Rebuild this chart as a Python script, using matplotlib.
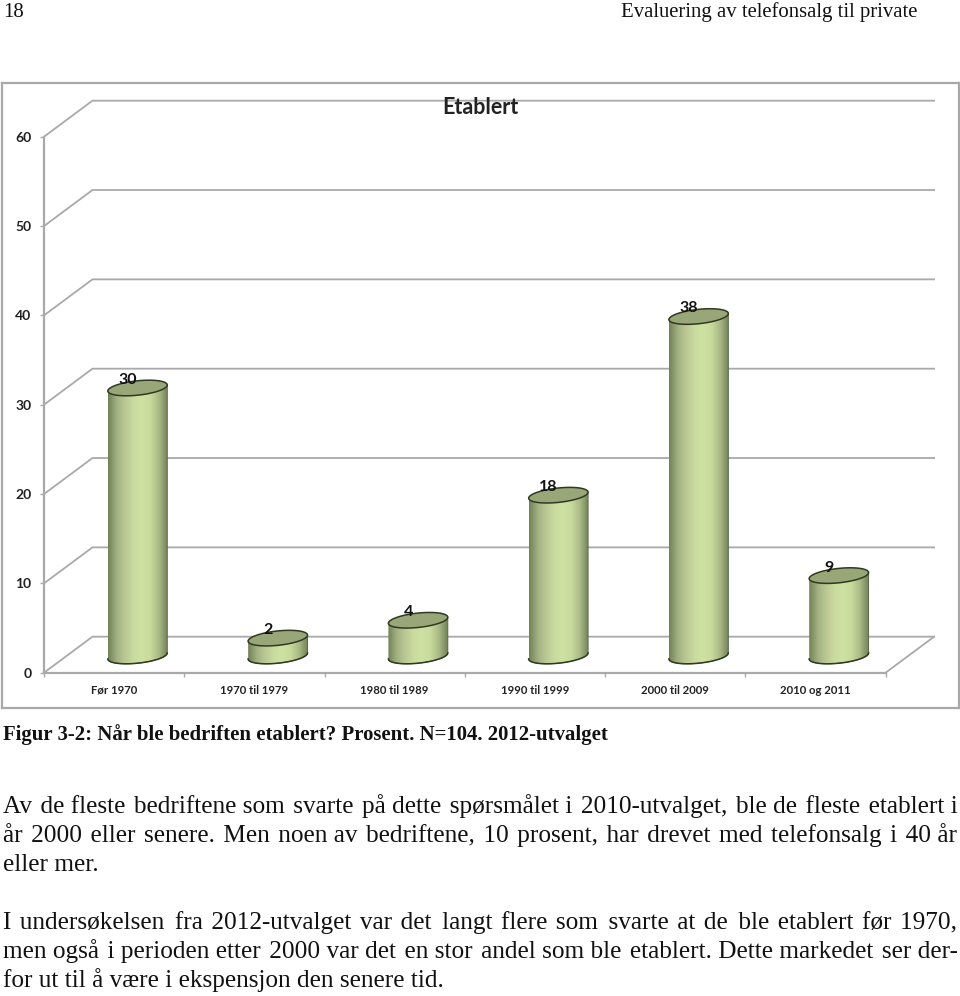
import numpy as np
import matplotlib
matplotlib.use("Agg")
import matplotlib.pyplot as plt
from matplotlib.colors import LinearSegmentedColormap
from matplotlib.patches import PathPatch
from matplotlib.path import Path

categories = ["Før 1970", "1970 til 1979", "1980 til 1989", "1990 til 1999", "2000 til 2009", "2010 og 2011"]
values = [30, 2, 4, 18, 38, 9]
y_ticks = [0, 10, 20, 30, 40, 50, 60]

W, H = 960, 996
GRID = "#a9a9a9"
SERIF = "Liberation Serif"
HAIR = "\u200a"

body_lines = [
    (813, "Av de fleste bedriftene som svarte på dette spørsmålet i 2010-utvalget, ble de fleste etablert i", True),
    (842, "år 2000 eller senere. Men noen av bedriftene, 10 prosent, har drevet med telefonsalg i 40 år", True),
    (871, "eller mer.", False),
    (929, "I undersøkelsen fra 2012-utvalget var det langt flere som svarte at de ble etablert før 1970,", True),
    (958, "men også i perioden etter 2000 var det en stor andel som ble etablert. Dette markedet ser der-", True),
    (987, "for ut til å være i ekspensjon den senere tid.", False),
]


def fy(py):
    return 1 - py / H


def justified(fig, py, line, stretch, x0=3, x1=958, size=18.2):
    # one string per line, words pushed apart with hair spaces so the baseline stays put
    renderer = fig.canvas.get_renderer()
    t = fig.text(x0 / W, fy(py), line, family=SERIF, fontsize=size, color="#111111", va="baseline")
    if not stretch:
        return
    natural = t.get_window_extent(renderer).width
    t.set_text("a" + HAIR * 10 + "a")
    hair = t.get_window_extent(renderer).width
    t.set_text("aa")
    hair = (hair - t.get_window_extent(renderer).width) / 10
    words = line.split(" ")
    extra = (x1 - x0 - natural) / hair / (len(words) - 1)
    out = words[0]
    used = 0
    for i, w in enumerate(words[1:], 1):
        n = round(extra * i) - used
        used += n
        out += " " + HAIR * n + w
    t.set_text(out)


def cylinder(ax, cmap, cx, value, base):
    # everything in data units, sizes follow the pixel scale of the axes
    a = 29.7 / 140.3
    b = 7.2 / 8.93
    tilt = 3.0 / 8.93
    t = np.linspace(0, 2 * np.pi, 120)
    top = value + base
    ex = cx + a * np.cos(t)
    ey = top + tilt * np.cos(t) + b * np.sin(t)

    low = np.linspace(np.pi, 2 * np.pi, 60)
    arc_x = cx + a * np.cos(low)
    arc_y = base + tilt * np.cos(low) + b * np.sin(low)
    xs = np.concatenate([arc_x, [cx + a, cx - a]])
    ys = np.concatenate([arc_y, [top + tilt, top - tilt]])
    grad = ax.imshow(np.linspace(0, 1, 80)[None, :], extent=(cx - a, cx + a, base - 2, top + 1),
                     aspect="auto", cmap=cmap, zorder=4)
    grad.set_clip_path(PathPatch(Path(np.column_stack([xs, ys])), transform=ax.transData))
    ax.plot(xs, ys, color="#5a6644", lw=0.7, zorder=5)
    ax.plot(arc_x, arc_y, color="#2f3a22", lw=1.1, zorder=5)
    ax.fill(ex, ey, facecolor="#98a678", edgecolor="#2f3a22", lw=1.1, zorder=6)
    ax.annotate(str(value), (cx, top), xytext=(-7.2, 5.8), textcoords="offset points", ha="center",
                va="center", family="Lato", weight="bold", fontsize=11.5, color="#111111",
                zorder=7, annotation_clip=False)


fig = plt.figure(figsize=(W / 100, H / 100), dpi=100)
fig.patch.set_facecolor("white")

# chart frame
frame = fig.add_axes([1.5 / W, fy(708), 957 / W, 625 / H])
frame.set_xticks([])
frame.set_yticks([])
for s in frame.spines.values():
    s.set_color("#a8a8a8")
    s.set_linewidth(1.6)

ax = fig.add_axes([44 / W, fy(672.7), 841.6 / W, 536 / H], facecolor="none")
ax.set_xlim(0, 6)
ax.set_ylim(0, 60)
for s in ax.spines.values():
    s.set_visible(False)

depth_x = 48.5 / 140.3
depth_y = 36 / 8.93
for v in y_ticks:
    ax.plot([0, depth_x, 6 + depth_x], [v, v + depth_y, v + depth_y], color=GRID, lw=1.3,
            clip_on=False, zorder=1)
ax.plot([6, 6 + depth_x], [0, depth_y], color=GRID, lw=1.3, clip_on=False, zorder=1)
ax.plot([0, 0], [0, 60], color=GRID, lw=1.6, clip_on=False, zorder=2)
ax.plot([0, 6], [0, 0], color=GRID, lw=1.6, clip_on=False, zorder=2)

ax.set_yticks(y_ticks)
ax.set_xticks(range(7))
ax.set_xticklabels([])
ax.tick_params(axis="both", color=GRID, length=3, width=1, labelcolor="#222222")
ax.tick_params(axis="y", pad=6)
for label in ax.get_yticklabels():
    label.set_family("Lato")
    label.set_weight("bold")
    label.set_fontsize(10)
for i, name in enumerate(categories):
    ax.annotate(name, (i + 0.5, 0), xytext=(0, -12.8), textcoords="offset points", ha="center",
                va="center", family="Lato", weight="bold", fontsize=8.2, color="#222222",
                annotation_clip=False)

bar_cmap = LinearSegmentedColormap.from_list(
    "bar", ["#75835a", "#a2b181", "#bac994", "#cadb9f", "#cfe1a2", "#c8d99c", "#a9b985", "#75835a"])
for i, v in enumerate(values):
    cylinder(ax, bar_cmap, i + 0.667, v, 1.87)
ax.set_xlim(0, 6)
ax.set_ylim(0, 60)

fig.text(480 / W, fy(108), "Etablert", family="Lato", weight="bold", fontsize=15.5, color="#222222",
         ha="center", va="center")

fig.text(3 / W, fy(17), "18", family=SERIF, fontsize=14.95, color="#111111", va="baseline")
fig.text(917 / W, fy(17), "Evaluering av telefonsalg til private", family=SERIF, fontsize=14.95,
         color="#111111", va="baseline", ha="right")
fig.text(3 / W, fy(740), "Figur 3-2: Når ble bedriften etablert? Prosent. N=104. 2012-utvalget",
         family=SERIF, weight="bold", fontsize=14.95, color="#111111", va="baseline")

fig.canvas.draw()
for py, line, stretch in body_lines:
    justified(fig, py, line, stretch)

fig.savefig("out.png", dpi=100)
